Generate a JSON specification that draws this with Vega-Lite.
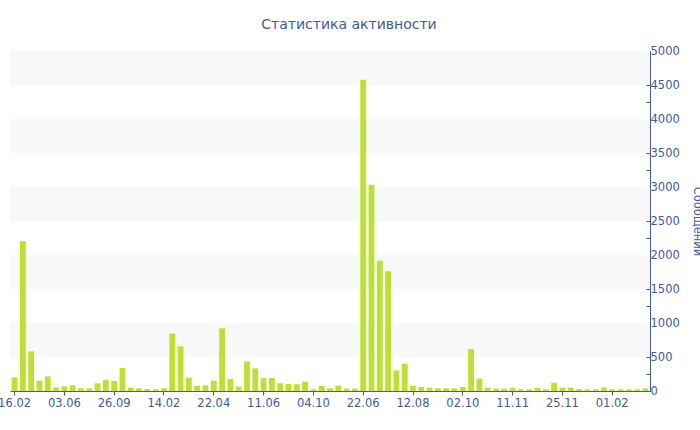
{
  "$schema": "https://vega.github.io/schema/vega-lite/v6.json",
  "width": 640,
  "height": 340,
  "autosize": {"type": "none"},
  "padding": {"left": 10, "top": 51, "right": 50, "bottom": 39},
  "background": "white",
  "config": {
    "view": {"stroke": null},
    "font": "DejaVu Sans",
    "axis": {"labelFont": "DejaVu Sans", "titleFont": "DejaVu Sans"}
  },
  "title": {
    "text": "Статистика активности",
    "font": "DejaVu Sans",
    "fontSize": 14,
    "fontWeight": "normal",
    "color": "#4458a3",
    "anchor": "middle",
    "dx": 19,
    "offset": 13
  },
  "datasets": {
    "bands": [
      {"lo": 500, "hi": 1000},
      {"lo": 1500, "hi": 2000},
      {"lo": 2500, "hi": 3000},
      {"lo": 3500, "hi": 4000},
      {"lo": 4500, "hi": 5000}
    ],
    "bars": [
      {"i": 0, "v": 200}, {"i": 1, "v": 2205}, {"i": 2, "v": 583}, {"i": 3, "v": 152}, {"i": 4, "v": 216},
      {"i": 5, "v": 54}, {"i": 6, "v": 69}, {"i": 7, "v": 83}, {"i": 8, "v": 39}, {"i": 9, "v": 39},
      {"i": 10, "v": 113}, {"i": 11, "v": 167}, {"i": 12, "v": 147}, {"i": 13, "v": 338}, {"i": 14, "v": 49},
      {"i": 15, "v": 39}, {"i": 16, "v": 29}, {"i": 17, "v": 25}, {"i": 18, "v": 39}, {"i": 19, "v": 843},
      {"i": 20, "v": 657}, {"i": 21, "v": 196}, {"i": 22, "v": 78}, {"i": 23, "v": 83}, {"i": 24, "v": 152},
      {"i": 25, "v": 922}, {"i": 26, "v": 176}, {"i": 27, "v": 64}, {"i": 28, "v": 436}, {"i": 29, "v": 333},
      {"i": 30, "v": 186}, {"i": 31, "v": 191}, {"i": 32, "v": 113}, {"i": 33, "v": 103}, {"i": 34, "v": 98},
      {"i": 35, "v": 137}, {"i": 36, "v": 25}, {"i": 37, "v": 78}, {"i": 38, "v": 39}, {"i": 39, "v": 78},
      {"i": 40, "v": 34}, {"i": 41, "v": 34}, {"i": 42, "v": 4578}, {"i": 43, "v": 3034}, {"i": 44, "v": 1917},
      {"i": 45, "v": 1760}, {"i": 46, "v": 304}, {"i": 47, "v": 402}, {"i": 48, "v": 78}, {"i": 49, "v": 59},
      {"i": 50, "v": 49}, {"i": 51, "v": 39}, {"i": 52, "v": 39}, {"i": 53, "v": 39}, {"i": 54, "v": 59},
      {"i": 55, "v": 617}, {"i": 56, "v": 181}, {"i": 57, "v": 49}, {"i": 58, "v": 34}, {"i": 59, "v": 34},
      {"i": 60, "v": 49}, {"i": 61, "v": 25}, {"i": 62, "v": 25}, {"i": 63, "v": 49}, {"i": 64, "v": 25},
      {"i": 65, "v": 122}, {"i": 66, "v": 49}, {"i": 67, "v": 49}, {"i": 68, "v": 29}, {"i": 69, "v": 25},
      {"i": 70, "v": 25}, {"i": 71, "v": 54}, {"i": 72, "v": 25}, {"i": 73, "v": 25}, {"i": 74, "v": 25},
      {"i": 75, "v": 25}, {"i": 76, "v": 39}
    ]
  },
  "layer": [
    {
      "data": {"name": "bands"},
      "mark": {"type": "rect", "color": "#f8f8f8"},
      "encoding": {
        "y": {
          "field": "lo",
          "type": "quantitative",
          "scale": {"domain": [0, 5000], "nice": false},
          "axis": {
            "orient": "right",
            "title": "Сообщений",
            "titleFontSize": 11.5,
            "titleFontWeight": "normal",
            "titleColor": "#4458a3",
            "titlePadding": 12,
            "values": [0, 250, 500, 750, 1000, 1250, 1500, 1750, 2000, 2250, 2500, 2750, 3000, 3250, 3500, 3750, 4000, 4250, 4500, 4750, 5000],
            "format": "d",
            "labelExpr": "datum.value % 500 == 0 ? datum.label : ''",
            "labelFontSize": 11.5,
            "labelColor": "#4458a3",
            "labelPadding": 4,
            "domainColor": "#4458a3",
            "tickColor": "#4458a3",
            "tickSize": -4,
            "grid": false
          }
        },
        "y2": {"field": "hi"}
      }
    },
    {
      "data": {"name": "bars"},
      "mark": {"type": "bar", "color": "#bde130"},
      "encoding": {
        "x": {
          "field": "i",
          "type": "ordinal",
          "sort": null,
          "scale": {"paddingInner": 0.3, "paddingOuter": 0.2},
          "axis": {
            "title": null,
            "values": [0, 6, 12, 18, 24, 30, 36, 42, 48, 54, 60, 66, 72],
            "labelExpr": "['16.02','03.06','26.09','14.02','22.04','11.06','04.10','22.06','12.08','02.10','11.11','25.11','01.02'][datum.value/6]",
            "labelAngle": 0,
            "labelFontSize": 11.5,
            "labelColor": "#4458a3",
            "labelOverlap": false,
            "labelBound": false,
            "labelFlush": false,
            "labelPadding": 2,
            "domainColor": "#4458a3",
            "tickColor": "#4458a3",
            "tickSize": 4,
            "grid": false
          }
        },
        "y": {
          "field": "v",
          "type": "quantitative",
          "scale": {"domain": [0, 5000], "nice": false},
          "axis": {
            "orient": "right",
            "title": "Сообщений",
            "titleFontSize": 11.5,
            "titleFontWeight": "normal",
            "titleColor": "#4458a3",
            "titlePadding": 12,
            "values": [0, 250, 500, 750, 1000, 1250, 1500, 1750, 2000, 2250, 2500, 2750, 3000, 3250, 3500, 3750, 4000, 4250, 4500, 4750, 5000],
            "format": "d",
            "labelExpr": "datum.value % 500 == 0 ? datum.label : ''",
            "labelFontSize": 11.5,
            "labelColor": "#4458a3",
            "labelPadding": 4,
            "domainColor": "#4458a3",
            "tickColor": "#4458a3",
            "tickSize": -4,
            "grid": false
          }
        }
      }
    }
  ]
}
